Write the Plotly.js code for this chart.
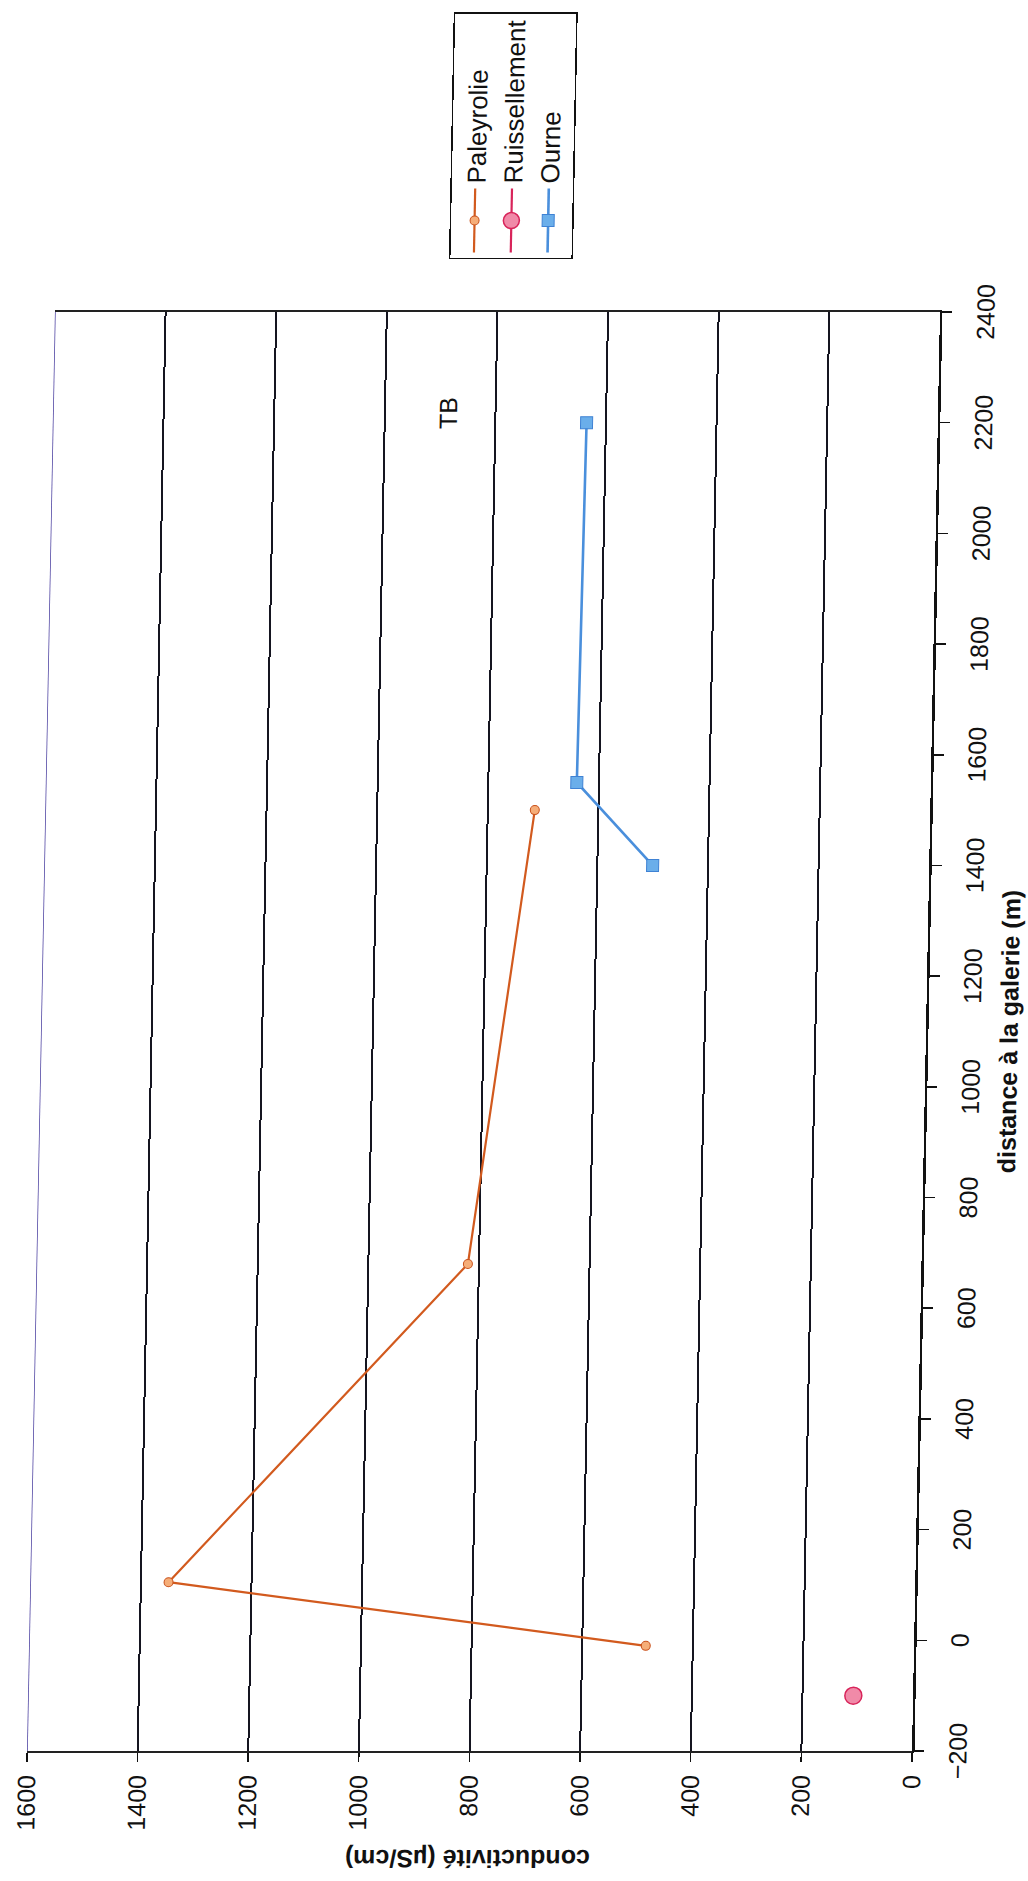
<!DOCTYPE html>
<html><head><meta charset="utf-8">
<script src="https://cdn.plot.ly/plotly-3.0.1.min.js"></script>
<style>
html,body{margin:0;padding:0;background:#fff;overflow:hidden;width:1028px;height:1881px;}
#chart{position:absolute;left:0;top:0;width:1881px;height:1028px;transform-origin:0 0;
transform:translate(0px,1751px) skewX(-1.113deg) translate(0px,130px) rotate(-90deg);}
</style></head><body><div id="chart"></div>
<script>
// Data (distance à la galerie in m, conductivité in µS/cm)
const paleyrolieDist = [-10, 105, 680, 1500];
const paleyrolieCond = [485, 1350, 820, 715];
const ruissellementDist = [-100];
const ruissellementCond = [108];
const ourneDist = [1400, 1550, 2200];
const ourneCond = [500, 640, 635];
const seriesNames = ['Paleyrolie', 'Ruissellement', 'Ourne'];
const distTickVals = [-200, 0, 200, 400, 600, 800, 1000, 1200, 1400, 1600, 1800, 2000, 2200, 2400];
const condTickVals = [0, 200, 400, 600, 800, 1000, 1200, 1400, 1600];
const noteText = 'TB';
const noteDist = 2217;
const noteCond = 886;
const xTitle = 'distance à la galerie (m)';
const yTitle = 'conductivité (µS/cm)';

const FONT = 'Liberation Sans, Arial, sans-serif';

const traces = [
  {x: paleyrolieDist, y: paleyrolieCond, name: seriesNames[0], mode: 'lines+markers', type: 'scatter',
   line: {color: '#d25a1e', width: 2.2},
   marker: {symbol: 'circle', size: 9, color: '#f5ad78', line: {color: '#c9501a', width: 1}}},
  {x: ruissellementDist, y: ruissellementCond, name: seriesNames[1], mode: 'lines+markers', type: 'scatter',
   line: {color: '#d8245a', width: 2.2},
   marker: {symbol: 'circle', size: 17, color: '#f08aa8', line: {color: '#d8245a', width: 1.5}}},
  {x: ourneDist, y: ourneCond, name: seriesNames[2], mode: 'lines+markers', type: 'scatter',
   line: {color: '#4a8fdc', width: 2.6},
   marker: {symbol: 'square', size: 12, color: '#6aaeea', line: {color: '#3f82d4', width: 1}}}
];

const layout = {
  width: 1881, height: 1028,
  margin: {l: 130, r: 310, t: 27, b: 116},
  paper_bgcolor: '#ffffff', plot_bgcolor: '#ffffff',
  font: {family: FONT, color: '#111111', size: 25},
  showlegend: true,
  legend: {x: 1.0368, y: 0.556, xanchor: 'left', yanchor: 'top',
    bordercolor: '#111111', borderwidth: 1.5, bgcolor: '#ffffff',
    font: {family: FONT, size: 26, color: '#111111'}, itemwidth: 64, tracegroupgap: 0},
  xaxis: {
    range: [-200, 2400], tickmode: 'array', tickvals: distTickVals,
    showgrid: false, zeroline: false,
    showline: true, linecolor: '#111111', linewidth: 2.5, mirror: false,
    ticks: 'outside', ticklen: 10, tickcolor: '#111111', tickwidth: 1.5,
    ticklabelstandoff: 12,
    tickfont: {family: FONT, size: 25, color: '#111111'},
    title: {text: xTitle, standoff: 16, font: {family: FONT, size: 25, color: '#111111', weight: 'bold'}}
  },
  yaxis: {
    range: [0, 1600], tickmode: 'array', tickvals: condTickVals,
    showgrid: true, gridcolor: '#151520', gridwidth: 2, zeroline: false,
    showline: true, linecolor: '#222222', linewidth: 2, mirror: true,
    ticks: 'outside', ticklen: 9, tickcolor: '#111111', tickwidth: 1.5,
    ticklabelstandoff: 8,
    tickfont: {family: FONT, size: 25, color: '#111111'},
    title: {text: yTitle, standoff: 12, font: {family: FONT, size: 25, color: '#111111', weight: 'bold'}}
  },
  shapes: [
    {type: 'line', xref: 'paper', yref: 'y', x0: 0, x1: 1, y0: condTickVals[condTickVals.length - 1], y1: condTickVals[condTickVals.length - 1],
     line: {color: '#4a3fa0', width: 1.5}}
  ],
  annotations: [
    {x: noteDist, y: noteCond, xref: 'x', yref: 'y', text: noteText, showarrow: false,
     font: {family: FONT, size: 25, color: '#111111'}}
  ]
};

Plotly.newPlot('chart', traces, layout, {displayModeBar: false, staticPlot: true});
</script>
</body></html>
